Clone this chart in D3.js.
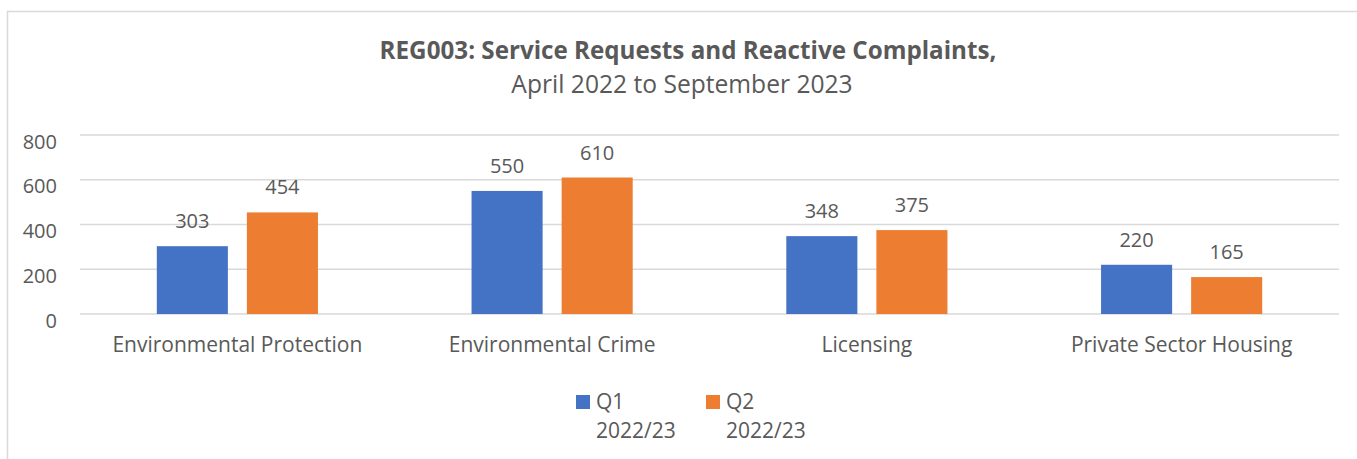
<!DOCTYPE html>
<html>
<head>
<meta charset="utf-8">
<script src="https://cdn.jsdelivr.net/npm/d3@7"></script>
<style>
  html, body { margin: 0; padding: 0; background: #fff; }
  svg { display: block; }
  text { font-family: "Open Sans", "DejaVu Sans", sans-serif; fill: #595959; }
</style>
</head>
<body>
<svg id="chart" width="1357" height="459"></svg>
<script>
// Quarterly request counts by service area
const categories = ["Environmental Protection", "Environmental Crime", "Licensing", "Private Sector Housing"];
const seriesNames = ["Q1 2022/23", "Q2 2022/23"];
const q1Values = [303, 550, 348, 220];
const q2Values = [454, 610, 375, 165];
const yTicks = [0, 200, 400, 600, 800];
const titleText = "REG003: Service Requests and Reactive Complaints,";
const subtitleText = "April 2022 to September 2023";

const colors = ["#4472C4", "#ED7D31"];
const W = 1357, H = 459;
const plot = { left: 80, right: 1339, top: 135, bottom: 314 };
const FONT = "'Open Sans', 'DejaVu Sans', sans-serif";

const svg = d3.select("#chart");

// chart area frame
svg.append("rect")
  .attr("x", 7.5).attr("y", 11.5)
  .attr("width", W + 20).attr("height", H + 20)
  .attr("fill", "#fff").attr("stroke", "#d9d9d9").attr("stroke-width", 1.5);

// titles
svg.append("text")
  .attr("x", 688).attr("y", 59)
  .attr("text-anchor", "middle")
  .style("font-weight", "bold").style("font-size", "24.2px")
  .text(titleText);
svg.append("text")
  .attr("x", 682).attr("y", 93)
  .attr("text-anchor", "middle")
  .style("font-size", "24.6px")
  .text(subtitleText);

const y = d3.scaleLinear().domain([0, 800]).range([plot.bottom, plot.top]);
const x0 = d3.scaleBand().domain(categories).range([plot.left, plot.right]).padding(0);
const bw = x0.bandwidth();
const groupW = bw * 0.512;
const x1 = d3.scaleBand().domain(seriesNames)
  .range([(bw - groupW) / 2, (bw + groupW) / 2])
  .paddingInner(0.211).paddingOuter(0);

// gridlines
svg.append("g").selectAll("line").data(yTicks).join("line")
  .attr("x1", plot.left).attr("x2", plot.right)
  .attr("y1", d => y(d)).attr("y2", d => y(d))
  .attr("stroke", "#d9d9d9").attr("stroke-width", 1.5);

// y axis labels
const yAxis = d3.axisLeft(y).tickValues(yTicks).tickSize(0).tickPadding(0);
const yg = svg.append("g").attr("transform", `translate(${plot.left - 23},0)`).call(yAxis);
yg.select(".domain").remove();
yg.selectAll("text")
  .attr("dy", 13).attr("dx", 0)
  .style("font-size", "20px").style("fill", "#595959")
  .style("font-family", FONT);

// x axis labels
const xAxis = d3.axisBottom(x0).tickSize(0).tickPadding(0);
const xg = svg.append("g").attr("transform", `translate(0,${plot.bottom})`).call(xAxis);
xg.select(".domain").remove();
xg.selectAll("text")
  .attr("y", 38).attr("dy", 0)
  .style("font-size", "21px").style("fill", "#595959")
  .style("font-family", FONT);

// bars and value labels
const rows = categories.map((c, i) => ({ cat: c, vals: [q1Values[i], q2Values[i]] }));
const groups = svg.append("g").selectAll("g").data(rows).join("g")
  .attr("transform", d => `translate(${x0(d.cat)},0)`);
const cells = groups.selectAll("g").data(d => d.vals.map((v, k) => ({ s: seriesNames[k], v, k }))).join("g");
cells.append("rect")
  .attr("x", d => x1(d.s)).attr("width", x1.bandwidth())
  .attr("y", d => y(d.v)).attr("height", d => y(0) - y(d.v))
  .attr("fill", d => colors[d.k]);
cells.append("text")
  .attr("x", d => x1(d.s) + x1.bandwidth() / 2)
  .attr("y", d => y(d.v) - 18)
  .attr("text-anchor", "middle")
  .style("font-size", "20px")
  .text(d => d.v);

// legend
const legendX = [576, 706];
const lg = svg.append("g").selectAll("g").data(seriesNames).join("g")
  .attr("transform", (d, i) => `translate(${legendX[i]},395)`);
lg.append("rect").attr("width", 14).attr("height", 14).attr("fill", (d, i) => colors[i]);
lg.append("text").attr("x", 20).attr("y", 14).style("font-size", "21px")
  .selectAll("tspan").data(d => d.split(" ")).join("tspan")
  .attr("x", 20).attr("dy", (d, i) => i === 0 ? 0 : 29)
  .text(d => d);
</script>
</body>
</html>
